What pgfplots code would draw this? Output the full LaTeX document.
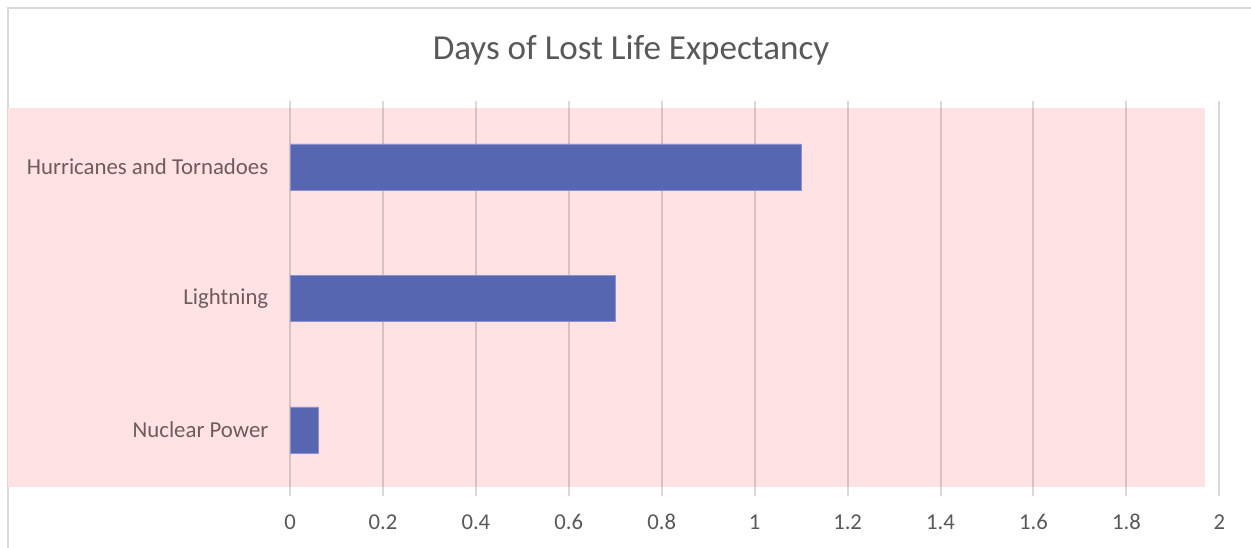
\documentclass[border=0pt]{standalone}
\usepackage{fontspec}
\setmainfont{Carlito}
\usepackage{pgfplots}
\pgfplotsset{compat=1.18}
\definecolor{barblue}{HTML}{5766B0}
\definecolor{baredge}{HTML}{8C90CC}
\definecolor{pinkbg}{HTML}{FFE2E4}
\definecolor{txtgray}{HTML}{595959}
\definecolor{cattxt}{HTML}{6E5B5E}
\definecolor{bordergray}{HTML}{D9D9D9}
\begin{document}
\begin{tikzpicture}[x=0.75pt,y=0.75pt]
% canvas 1251 x 548 px, origin bottom-left
\path[use as bounding box] (0,0) rectangle (1251,548);
\fill[white] (0,0) rectangle (1251,548);
% outer chart border (top and left)
\draw[bordergray, line width=1.5pt] (8,-5) -- (8,540) -- (1260,540);
% pink area
\fill[pinkbg] (8,61) rectangle (1205,440);
% title
\node[txtgray, font=\fontsize{26.3}{30}\selectfont] at (631,498) {Days of Lost Life Expectancy};
\begin{axis}[
  at={(290*0.75pt,52.25*0.75pt)}, anchor=south west,
  scale only axis,
  width=697pt, height=295.9pt,
  xmin=0, xmax=2, ymin=-0.5, ymax=2.5,
  axis line style={draw=none},
  xtick={0,0.2,...,2}, ytick={0,1,2},
  yticklabels={Nuclear Power,Lightning,Hurricanes and Tornadoes},
  xmajorgrids,
  grid style={black, opacity=0.15, line width=1.5pt},
  tick style={draw=none},
  xticklabel style={txtgray, font=\fontsize{17}{20}\selectfont, /pgf/number format/assume math mode=true, yshift=-10.5pt},
  yticklabel style={cattxt, font=\fontsize{17.1}{20}\selectfont, xshift=-8.5pt},
  xticklabel={\pgfmathprintnumber[fixed, precision=1]{\tick}},
  xbar, bar width=34.5pt,
  clip=false,
]
\addplot[fill=barblue, draw=baredge, line width=0.5pt] coordinates {(0.06,0) (0.70,1) (1.10,2)};
\end{axis}
\end{tikzpicture}
\end{document}
